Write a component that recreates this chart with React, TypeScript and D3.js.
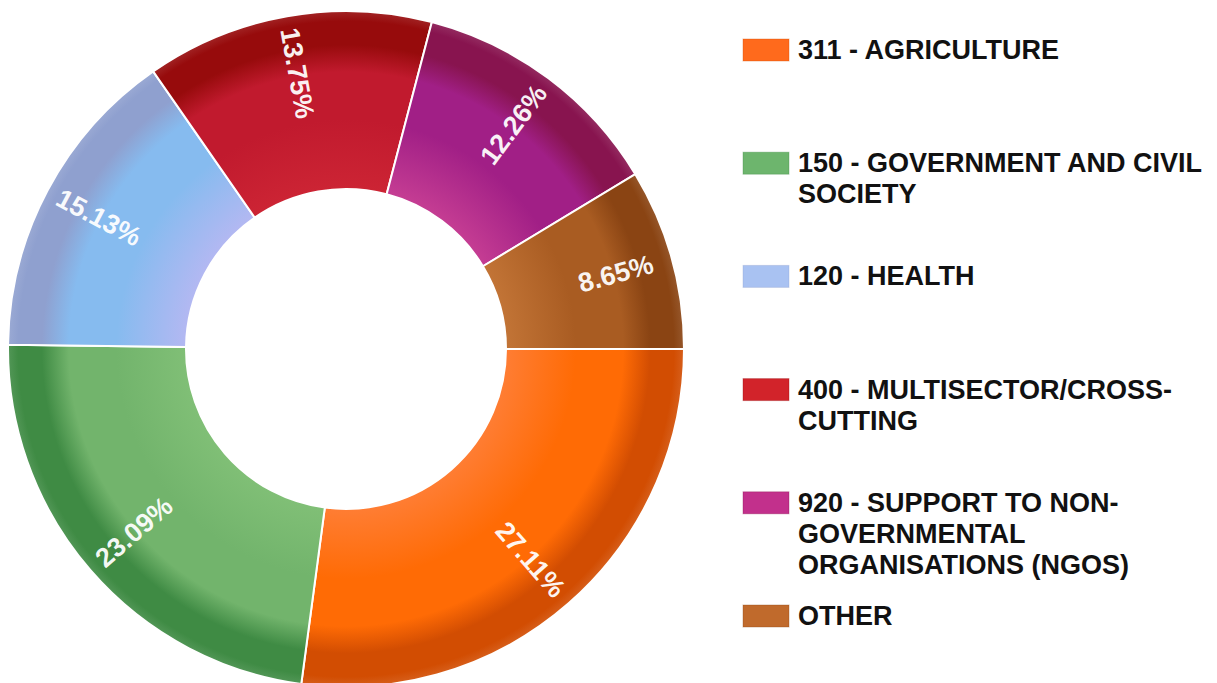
import * as d3 from "d3";

// sector shares (percent), in drawing order starting at 3 o'clock, clockwise
const categories = [
    "311 - AGRICULTURE",
    "150 - GOVERNMENT AND CIVIL SOCIETY",
    "120 - HEALTH",
    "400 - MULTISECTOR/CROSS-CUTTING",
    "920 - SUPPORT TO NON-GOVERNMENTAL ORGANISATIONS (NGOS)",
    "OTHER",
];
const shares = [27.11, 23.09, 15.13, 13.75, 12.26, 8.65];

// light (inner), main, dark (outer band)
const lightColors = ["#ff7d33", "#80bf76", "#b3b8f2", "#cc2434", "#c53d93", "#c27436"];
const mainColors = ["#ff6b05", "#72b46c", "#86bbef", "#c11a2e", "#a11f86", "#a95c22"];
const darkColors = ["#d24d02", "#3f8b44", "#8fa0cf", "#970b0c", "#88144f", "#8a4413"];
const swatchColors = ["#ff6a1c", "#6db56d", "#a9c2f2", "#d2232a", "#c2308c", "#c06a2c"];

const width = 1217;
const height = 683;
const cx = 346;
const cy = 349;
const outerR = 338;
const innerR = 160;
const labelR = 280;

const legendX = 743;
const legendTextX = 798;
const legendTop = 59;
const legendStep = 113.2;
const legendFont = 27;
const lineHeight = 31;

const fontFamily = "'Liberation Sans', Arial, Helvetica, sans-serif";

// greedy wrap, breaking on spaces and after hyphens
function wrapText(text: string, maxWidth: number): string[] {
    const canvas = document.createElement("canvas");
    const ctx = canvas.getContext("2d")!;
    ctx.font = `bold ${legendFont}px ${fontFamily}`;
    const tokens = text.match(/[^\s-]+-?|-|\s+/g) || [];
    const lines: string[] = [];
    let current = "";
    for (const t of tokens) {
        const candidate = current + t;
        if (current.trim() !== "" && ctx.measureText(candidate.trimEnd()).width > maxWidth) {
            lines.push(current.trimEnd());
            current = t.trim() === "" ? "" : t;
        } else {
            current = candidate;
        }
    }
    if (current.trim() !== "") lines.push(current.trimEnd());
    return lines;
}

export default function App() {
    const pie = d3.pie<number>()
        .value(d => d)
        .sort(null)
        .startAngle(Math.PI / 2)
        .endAngle(Math.PI / 2 + 2 * Math.PI);
    const arcs = pie(shares);

    const arcGen = d3.arc<d3.PieArcDatum<number>>()
        .innerRadius(innerR)
        .outerRadius(outerR);

    const innerFrac = innerR / outerR;
    const maxTextWidth = width - legendTextX - 4;

    return (
        <svg
            width={width}
            height={height}
            style={{ position: "absolute", left: 0, top: 0, background: "#fff" }}
            fontFamily={fontFamily}
        >
            <defs>
                {arcs.map((a, i) => (
                    <radialGradient
                        key={i}
                        id={`slice-grad-${i}`}
                        gradientUnits="userSpaceOnUse"
                        cx={0}
                        cy={0}
                        r={outerR}
                    >
                        <stop offset={innerFrac} stopColor={lightColors[i]} />
                        <stop offset={0.68} stopColor={mainColors[i]} />
                        <stop offset={0.82} stopColor={mainColors[i]} />
                        <stop offset={0.9} stopColor={darkColors[i]} />
                        <stop offset={0.97} stopColor={darkColors[i]} />
                        <stop offset={1} stopColor={darkColors[i]} stopOpacity={0.9} />
                    </radialGradient>
                ))}
            </defs>

            <g transform={`translate(${cx},${cy})`}>
                {arcs.map((a, i) => (
                    <path
                        key={i}
                        d={arcGen(a) || ""}
                        fill={`url(#slice-grad-${i})`}
                        stroke="#fff"
                        strokeWidth={2}
                    />
                ))}
                {arcs.map((a, i) => {
                    const mid = (a.startAngle + a.endAngle) / 2;
                    const x = labelR * Math.sin(mid);
                    const y = -labelR * Math.cos(mid);
                    let rot = (mid * 180) / Math.PI - 90;
                    // keep text upright-ish on the left half
                    if (Math.sin(mid) < 0) rot += 180;
                    return (
                        <text
                            key={i}
                            transform={`translate(${x},${y}) rotate(${rot})`}
                            textAnchor="middle"
                            dominantBaseline="central"
                            fill="#fff"
                            fontSize={27}
                            fontWeight="bold"
                            fillOpacity={0.95}
                        >
                            {`${shares[i].toFixed(2)}%`}
                        </text>
                    );
                })}
            </g>

            <g>
                {categories.map((c, i) => {
                    const baseY = legendTop + i * legendStep;
                    const lines = wrapText(c, maxTextWidth);
                    return (
                        <g key={c}>
                            <rect
                                x={legendX}
                                y={baseY - 20}
                                width={46}
                                height={22}
                                fill={swatchColors[i]}
                                stroke={darkColors[i]}
                                strokeOpacity={0.35}
                                strokeWidth={1}
                            />
                            <text
                                x={legendTextX}
                                y={baseY}
                                fontSize={legendFont}
                                fontWeight="bold"
                                fill="#111"
                            >
                                {lines.map((l, j) => (
                                    <tspan key={j} x={legendTextX} dy={j === 0 ? 0 : lineHeight}>
                                        {l}
                                    </tspan>
                                ))}
                            </text>
                        </g>
                    );
                })}
            </g>
        </svg>
    );
}
